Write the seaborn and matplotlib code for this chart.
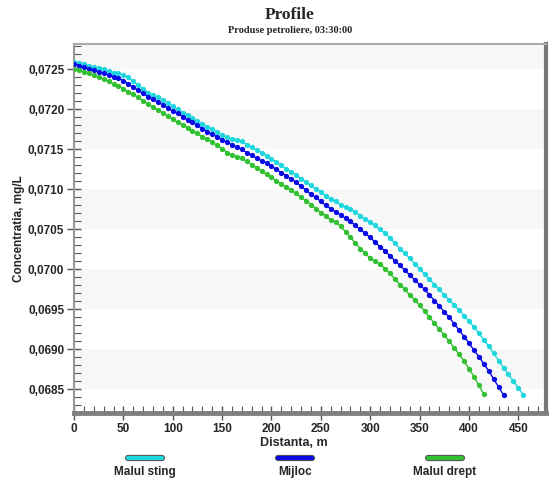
import numpy as np
import pandas as pd
import matplotlib
matplotlib.use("Agg")
import matplotlib.pyplot as plt
import matplotlib.patheffects as pe
from matplotlib.lines import Line2D
from matplotlib.ticker import MultipleLocator, FuncFormatter
import seaborn as sns

# Distance steps (m) for each profile
dist_sting = list(range(0, 460, 5))
dist_mijloc = list(range(0, 440, 5))
dist_drept = list(range(0, 420, 5))

# Concentration values (mg/L)
conc_sting = [
    0.07260, 0.07258, 0.07257, 0.07255, 0.07253, 0.07252, 0.07250, 0.07248, 0.07246, 0.07245,
    0.07243, 0.07240, 0.07235, 0.07231, 0.07226, 0.07221, 0.07218, 0.07215, 0.07212, 0.07208,
    0.07204, 0.07200, 0.07196, 0.07193, 0.07189, 0.07185, 0.07182, 0.07178, 0.07175, 0.07172,
    0.07168, 0.07165, 0.07163, 0.07162, 0.07160, 0.07156, 0.07153, 0.07149, 0.07146, 0.07142,
    0.07138, 0.07134, 0.07130, 0.07126, 0.07122, 0.07118, 0.07113, 0.07109, 0.07105, 0.07101,
    0.07097, 0.07092, 0.07088, 0.07085, 0.07081, 0.07078, 0.07075, 0.07072, 0.07067, 0.07063,
    0.07059, 0.07055, 0.07050, 0.07045, 0.07039, 0.07033, 0.07026, 0.07020, 0.07014, 0.07007,
    0.07001, 0.06994, 0.06988, 0.06981, 0.06975, 0.06968, 0.06962, 0.06955, 0.06949, 0.06942,
    0.06935, 0.06928, 0.06920, 0.06912, 0.06904, 0.06895, 0.06886, 0.06877, 0.06869, 0.06860,
    0.06852, 0.06843,
]
conc_mijloc = [
    0.07257, 0.07255, 0.07253, 0.07251, 0.07249, 0.07247, 0.07245, 0.07243, 0.07241, 0.07239,
    0.07236, 0.07232, 0.07228, 0.07224, 0.07220, 0.07216, 0.07213, 0.07209, 0.07206, 0.07202,
    0.07198, 0.07195, 0.07191, 0.07187, 0.07184, 0.07180, 0.07176, 0.07172, 0.07169, 0.07166,
    0.07162, 0.07159, 0.07156, 0.07153, 0.07150, 0.07146, 0.07143, 0.07139, 0.07136, 0.07133,
    0.07129, 0.07125, 0.07121, 0.07117, 0.07113, 0.07109, 0.07104, 0.07099, 0.07094, 0.07090,
    0.07085, 0.07080, 0.07076, 0.07072, 0.07068, 0.07064, 0.07060, 0.07055, 0.07050, 0.07045,
    0.07040, 0.07034, 0.07028, 0.07023, 0.07017, 0.07011, 0.07005, 0.06999, 0.06993, 0.06987,
    0.06981, 0.06975, 0.06968, 0.06961, 0.06954, 0.06947, 0.06940, 0.06932, 0.06924, 0.06916,
    0.06908, 0.06899, 0.06891, 0.06882, 0.06873, 0.06863, 0.06853, 0.06843,
]
conc_drept = [
    0.07251, 0.07249, 0.07247, 0.07245, 0.07243, 0.07240, 0.07238, 0.07235, 0.07232, 0.07229,
    0.07226, 0.07222, 0.07219, 0.07215, 0.07211, 0.07207, 0.07203, 0.07199, 0.07196, 0.07192,
    0.07188, 0.07184, 0.07181, 0.07177, 0.07173, 0.07170, 0.07166, 0.07163, 0.07159, 0.07155,
    0.07151, 0.07146, 0.07143, 0.07141, 0.07139, 0.07135, 0.07131, 0.07127, 0.07123, 0.07119,
    0.07115, 0.07111, 0.07107, 0.07103, 0.07099, 0.07095, 0.07090, 0.07086, 0.07081, 0.07076,
    0.07071, 0.07067, 0.07062, 0.07059, 0.07054, 0.07047, 0.07040, 0.07033, 0.07026, 0.07020,
    0.07014, 0.07010, 0.07007, 0.07001, 0.06995, 0.06988, 0.06981, 0.06975, 0.06968, 0.06962,
    0.06955, 0.06948, 0.06940, 0.06933, 0.06925, 0.06918, 0.06910, 0.06902, 0.06894, 0.06885,
    0.06876, 0.06866, 0.06855, 0.06844,
]

series_names = ["Malul sting", "Mijloc", "Malul drept"]
series_colors = ["#1ed6de", "#0a0ae6", "#30c030"]

y_ticks = [0.0685, 0.0690, 0.0695, 0.0700, 0.0705, 0.0710, 0.0715, 0.0720, 0.0725]
x_ticks = [0, 50, 100, 150, 200, 250, 300, 350, 400, 450]

df = pd.concat([
    pd.DataFrame({"dist": dist_sting, "conc": conc_sting, "serie": series_names[0]}),
    pd.DataFrame({"dist": dist_mijloc, "conc": conc_mijloc, "serie": series_names[1]}),
    pd.DataFrame({"dist": dist_drept, "conc": conc_drept, "serie": series_names[2]}),
])

sns.set_style("white")
plt.rcParams["font.family"] = ["Liberation Sans", "DejaVu Sans"]

fig = plt.figure(figsize=(5.49, 4.84), dpi=100)
ax = fig.add_axes([0.1348, 0.1467, 0.8597, 0.7634])

ylo, yhi = 0.068204, 0.072825
ax.set_xlim(0, 478)
ax.set_ylim(ylo, yhi)

# alternating light bands between major y ticks
band_edges = y_ticks + [yhi]
for i in range(0, len(band_edges) - 1, 2):
    ax.axhspan(band_edges[i], band_edges[i + 1], color="#f8f8f8", lw=0, zorder=0)

sns.lineplot(data=df, x="dist", y="conc", hue="serie", palette=series_colors,
             hue_order=series_names, marker="o", markersize=3.8, markeredgewidth=0,
             linewidth=1.0, sort=False, estimator=None, legend=False, ax=ax, zorder=3)

ax.set_xticks(x_ticks)
ax.set_yticks(y_ticks)
ax.xaxis.set_minor_locator(MultipleLocator(10))
ax.yaxis.set_minor_locator(MultipleLocator(0.0001))
ax.yaxis.set_major_formatter(FuncFormatter(lambda v, p: f"{v:.4f}".replace(".", ",")))
ax.tick_params(axis="both", which="both", bottom=True, left=True, top=False, right=False)
ax.tick_params(axis="both", which="major", direction="inout", length=10, width=1,
               color="#555555", labelsize=8.5, pad=2)
ax.tick_params(axis="both", which="minor", direction="in", length=5, width=0.8,
               color="#555555")
for lab in ax.get_xticklabels() + ax.get_yticklabels():
    lab.set_fontweight("bold")

ax.spines["left"].set_color("#999999")
ax.spines["left"].set_linewidth(1.5)
ax.spines["top"].set_color("#aaaaaa")
ax.spines["top"].set_linewidth(1.5)
ax.spines["right"].set_color("#777777")
ax.spines["right"].set_linewidth(3)
ax.spines["bottom"].set_color("#808080")
ax.spines["bottom"].set_linewidth(3.5)

ax.set_xlabel("Distanta, m", fontsize=9, fontweight="bold")
ax.xaxis.set_label_coords(0.466, -0.065)
ax.set_ylabel("Concentratia, mg/L", fontsize=8.5, fontweight="bold")
ax.yaxis.set_label_coords(-0.104, 0.5)

fig.text(0.528, 0.970, "Profile", ha="center", va="center", fontsize=12.5,
         fontweight="bold", family=["Liberation Serif", "DejaVu Serif"])
fig.text(0.528, 0.936, "Produse petroliere, 03:30:00", ha="center", va="center",
         fontsize=7.5, fontweight="bold", family=["Liberation Serif", "DejaVu Serif"])

# legend below the axes: line sample above each label
leg_x = [0.264, 0.537, 0.810]
for name, col, cx in zip(series_names, series_colors, leg_x):
    ln = Line2D([cx - 0.031, cx + 0.031], [0.054, 0.054], transform=fig.transFigure,
                color=col, lw=3, solid_capstyle="round",
                path_effects=[pe.Stroke(linewidth=4.5, foreground="#555555"), pe.Normal()])
    fig.add_artist(ln)
    fig.text(cx, 0.025, name, ha="center", va="center", fontsize=8.5, fontweight="bold")

fig.savefig("out.png", dpi=100)
